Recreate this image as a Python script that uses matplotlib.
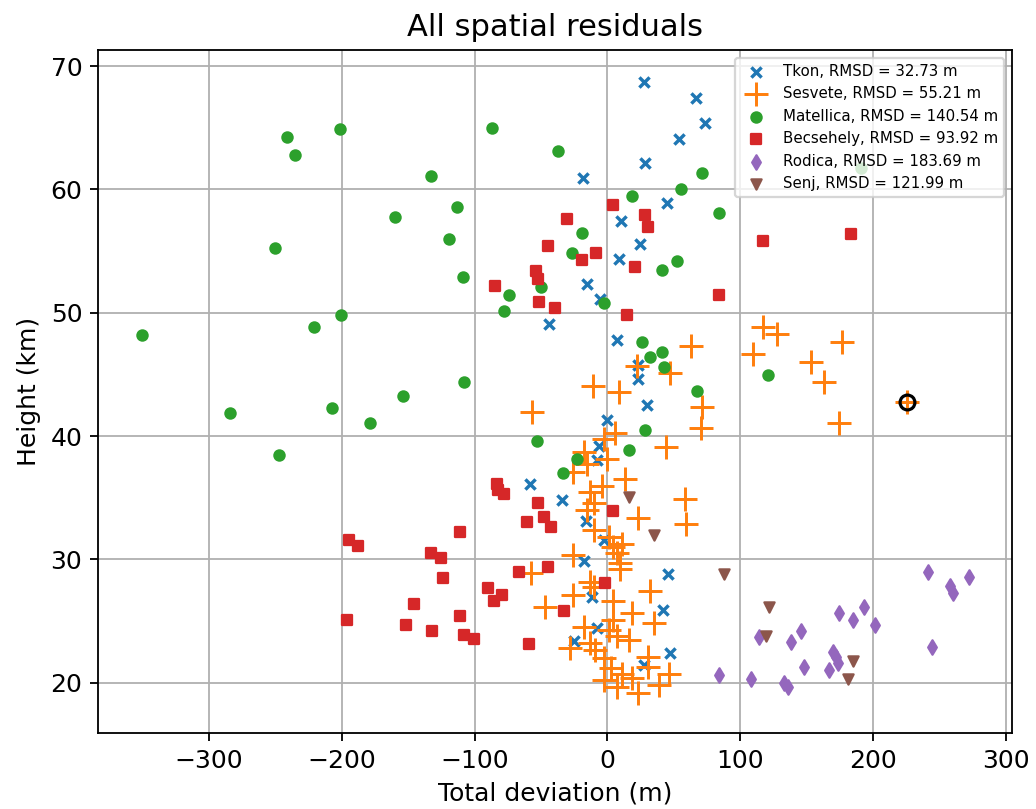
import matplotlib
matplotlib.use('Agg')
import matplotlib.pyplot as plt

# residuals per station: (total deviation m, height km)
tkon_x = [27.8, 66.5, 73.5, 54.1, 28.1, -18.3, 45.1, 10.1, 24.8, 8.8, -15.3, -5.3, -43.8, 7.3,
          22.6, 22.6, 29.6, 0.0, -6.2, -8.0, -58.1, -34.1, -16.2, -2.5, -18.0, 45.4, -11.7,
          42.1, -8.0, -25.0, 47.1, 27.1]
tkon_y = [68.73, 67.38, 65.4, 64.1, 62.11, 60.9, 58.87, 57.46, 55.57, 54.32, 52.3, 51.08, 49.06,
          47.78, 45.76, 44.6, 42.51, 41.3, 39.19, 38.05, 36.08, 34.81, 33.11, 31.57, 29.89, 28.81,
          26.97, 25.89, 24.41, 23.41, 22.43, 21.43]

sesvete_x = [62.9, 117.3, 127.8, 109.8, 176.2, 152.9, 163.2, 174.0, 71.0, 70.4, 22.1, 47.1, -11.0,
             8.3, -56.8, 5.8, -2.5, 44.1, -18.0, -15.5, -0.5, -25.6, -4.2, 13.3, 58.4, -13.0,
             -10.5, -15.5, 23.3, 59.2, -10.5, 0.8, 4.5, 10.8, 7.1, -25.6, 9.5, 9.5, -57.4, -13.0,
             -10.5, -26.0, 32.1, 4.5, -46.8, 18.3, 4.5, 35.1, -17.5, 1.5, 7.1, 16.5, -13.0, -28.0,
             -9.2, -2.5, 30.1, 30.8, 2.5, 10.8, 46.6, -3.0, 18.3, 39.1, 7.1, 23.3, 225.6]
sesvete_y = [47.3, 48.86, 48.27, 46.65, 47.65, 46.03, 44.35, 41.08, 42.32, 40.67, 45.68, 45.08,
             44.05, 43.59, 41.97, 40.22, 39.73, 39.13, 38.73, 37.73, 38.11, 37.1, 35.95, 36.49,
             34.86, 35.49, 34.54, 34.0, 33.38, 32.84, 32.38, 31.8, 31.03, 31.24, 30.49, 30.35,
             29.68, 29.19, 28.86, 28.19, 27.78, 27.11, 27.46, 26.62, 26.16, 25.68, 25.08, 24.86,
             24.54, 24.27, 23.78, 23.46, 23.24, 22.79, 22.65, 21.97, 22.05, 21.3, 21.16, 20.7,
             20.68, 20.22, 20.35, 19.81, 19.67, 19.19, 42.78]

matellica_x = [-241.1, -235.3, -201.0, -160.1, -250.4, -200.8, -221.0, -350.0, -283.7, -207.0,
               -178.4, -153.6, -247.0, -86.9, -37.6, -133.1, -113.0, -119.3, -108.5, 71.4, 55.2,
               18.6, -19.5, -26.8, 52.6, 41.1, -50.1, -74.4, -77.7, -2.5, 84.0, 25.9, 40.9, 32.1,
               42.6, 121.0, 67.2, -108.3, -53.4, 28.3, 16.1, -22.8, -33.8, 190.7]
matellica_y = [64.27, 62.78, 64.86, 57.78, 55.24, 49.8, 48.84, 48.2, 41.84, 42.27, 41.08, 43.24,
               38.46, 64.95, 63.14, 61.08, 58.57, 55.95, 52.86, 61.35, 60.05, 59.46, 56.49, 54.86,
               54.16, 53.46, 52.11, 51.46, 50.14, 50.81, 58.05, 47.65, 46.81, 46.38, 45.57, 44.95,
               43.65, 44.4, 39.62, 40.49, 38.86, 38.11, 37.03, 61.7]

becsehely_x = [-194.2, -187.7, -196.0, -151.6, -145.3, 4.1, 28.1, 30.8, -30.8, -44.4, -8.7, -19.3,
               20.8, -53.8, -52.3, -84.7, -51.4, -39.6, 14.6, 84.0, 116.8, 183.2, -83.2, -82.0,
               -78.2, -52.3, -47.6, -42.6, -60.6, -110.8, 4.5, -132.6, -125.0, -124.0, -132.0,
               -110.8, -107.7, -100.2, -90.2, -79.4, -85.2, -66.4, -44.8, -59.4, -32.8, -1.7]
becsehely_y = [31.57, 31.08, 25.08, 24.7, 26.4, 58.7, 57.95, 56.97, 57.6, 55.41, 54.86, 54.27,
               53.68, 53.4, 52.7, 52.16, 50.86, 50.38, 49.81, 51.43, 55.78, 56.35, 36.11, 35.62,
               35.27, 34.54, 33.46, 32.65, 33.05, 32.24, 33.95, 30.49, 30.08, 28.51, 24.19, 25.4,
               23.86, 23.51, 27.68, 27.11, 26.65, 29.0, 29.4, 23.11, 25.84, 28.05]

rodica_x = [241.4, 257.7, 260.2, 271.7, 244.4, 174.0, 184.7, 193.0, 201.3, 114.1, 138.4, 145.9,
            147.7, 169.5, 171.7, 173.7, 166.9, 83.5, 108.3, 133.1, 135.6]
rodica_y = [29.0, 27.84, 27.24, 28.54, 22.87, 25.62, 25.08, 26.16, 24.68, 23.68, 23.27, 24.19,
            21.3, 22.51, 22.11, 21.62, 21.03, 20.62, 20.32, 19.95, 19.62]

senj_x = [88.0, 121.4, 119.3, 184.5, 181.2, 16.5, 35.1]
senj_y = [28.8, 26.16, 23.78, 21.76, 20.32, 35.08, 31.97]

labels = ['Tkon, RMSD = 32.73 m', 'Sesvete, RMSD = 55.21 m', 'Matellica, RMSD = 140.54 m',
          'Becsehely, RMSD = 93.92 m', 'Rodica, RMSD = 183.69 m', 'Senj, RMSD = 121.99 m']

# highlighted point
mark_x, mark_y = 225.6, 42.78

plt.rcParams['font.size'] = 11

fig = plt.figure(figsize=(1036 / 164, 809 / 164), dpi=164)
ax = fig.add_subplot(111)
fig.subplots_adjust(left=0.0949, right=0.9765, top=0.9382, bottom=0.0943)

ax.scatter(tkon_x, tkon_y, marker='x', s=20, linewidths=1.5, color='C0', label=labels[0])
ax.scatter(sesvete_x, sesvete_y, marker='+', s=110, linewidths=1.3, color='C1', label=labels[1])
ax.scatter(matellica_x, matellica_y, marker='o', s=20, color='C2', label=labels[2])
ax.scatter(becsehely_x, becsehely_y, marker='s', s=20, color='C3', label=labels[3])
ax.scatter(rodica_x, rodica_y, marker='d', s=20, color='C4', label=labels[4])
ax.scatter(senj_x, senj_y, marker='v', s=20, color='C5', label=labels[5])
ax.plot(mark_x, mark_y, 'o', ms=6.5, mfc='none', mec='k', mew=1.4)

ax.set_xlim(-383, 304)
ax.set_ylim(15.95, 71.3)
ax.set_axisbelow(True)
ax.grid(True)
ax.set_title('All spatial residuals', fontsize=13.4)
ax.set_xlabel('Total deviation (m)')
ax.set_ylabel('Height (km)')
ax.legend(loc='upper right', fontsize=6.6)

fig.savefig('out.png', dpi=164)
plt.close(fig)
